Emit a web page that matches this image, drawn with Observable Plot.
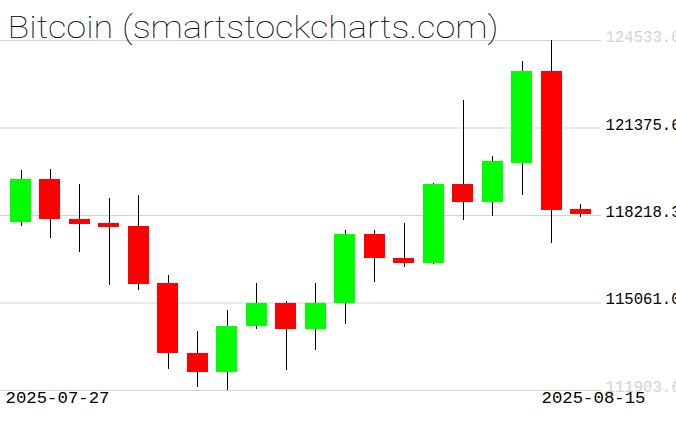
<!DOCTYPE html>
<html>
<head>
<meta charset="utf-8">
<script src="https://cdn.jsdelivr.net/npm/d3@7"></script>
<script src="https://cdn.jsdelivr.net/npm/@observablehq/plot@0.6"></script>
<style>
  body { margin: 0; background: #fff; }
  #chart { width: 676px; height: 431px; overflow: hidden; }
</style>
</head>
<body>
<div id="chart"></div>
<script>
const title = "Bitcoin (smartstockcharts.com)";
const dates = ["2025-07-27","2025-07-28","2025-07-29","2025-07-30","2025-07-31","2025-08-01","2025-08-02","2025-08-03","2025-08-04","2025-08-05","2025-08-06","2025-08-07","2025-08-08","2025-08-09","2025-08-10","2025-08-11","2025-08-12","2025-08-13","2025-08-14","2025-08-15"];
const open  = [117958,119501,118092,117947,117839,115780,113251,112540,114201,115057,114093,115032,117550,116683,116477,119320,118681,120090,123402,118417];
const high  = [119826,119862,119320,118814,118923,116069,114046,114805,115780,115130,115780,117695,117695,117947,119356,122355,120332,123763,124533.0,118616];
const low   = [117839,117380,116875,115708,115502,112648,111998,111903.6,114093,112612,113334,114273,115791,116333,116448,118030,118175,118934,117214,118139];
const close = [119501,118056,117911,117803,115744,113226,112540,114227,115057,114093,115057,117550,116658,116477,119320,118681,120151,123402,118392,118247];
const yTicks = [111903.6, 115061.0, 118218.3, 121375.6, 124533.0];
const xTicks = ["2025-07-27", "2025-08-15"];

const candles = dates.map((d, i) => ({date: d, open: open[i], high: high[i], low: low[i], close: close[i]}));
const mono = '"Liberation Mono", "DejaVu Sans Mono", monospace';

const chart = Plot.plot({
  width: 676,
  height: 431,
  marginTop: 40,
  marginBottom: 41,
  marginLeft: 0,
  marginRight: 75,
  x: {type: "band", domain: dates, paddingInner: 0.2875, paddingOuter: 0.34, round: false, axis: null},
  y: {domain: [yTicks[0], yTicks[yTicks.length - 1]], axis: null},
  style: {background: "#fff", overflow: "visible"},
  marks: [
    Plot.gridY(yTicks, {stroke: "#d3d3d3", strokeOpacity: 1}),
    Plot.ruleX(candles, {x: "date", y1: "low", y2: "high", stroke: "#000", strokeWidth: 1, shapeRendering: "crispEdges"}),
    Plot.barY(candles, {x: "date", y1: "open", y2: "close", fill: d => d.close >= d.open ? "#00ff00" : "#ff0000", shapeRendering: "crispEdges"}),
    Plot.text(yTicks, {
      y: d => d, frameAnchor: "right", dx: 4, dy: 1.5, textAnchor: "start", lineAnchor: "bottom",
      text: d => d.toFixed(1),
      fill: (d, i) => (i === 0 || i === yTicks.length - 1) ? "#d3d3d3" : "#000",
      fontFamily: mono, fontSize: 16
    }),
    Plot.text([xTicks[0]], {x: d => d, frameAnchor: "bottom", dx: -15.5, dy: 12, textAnchor: "start", lineAnchor: "bottom", fill: "#000", fontFamily: mono, fontSize: 16}),
    Plot.text([xTicks[1]], {x: d => d, frameAnchor: "bottom", dx: -39.5, dy: 12, textAnchor: "start", lineAnchor: "bottom", fill: "#000", fontFamily: mono, fontSize: 16}),
    Plot.text([title], {frameAnchor: "top-left", dx: 7, dy: -3, textAnchor: "start", lineAnchor: "bottom", fill: "#000", fontFamily: 'Roboto, "Liberation Sans"', fontSize: 31, fontWeight: 100})
  ]
});

document.getElementById("chart").appendChild(chart);

d3.select(chart).selectAll("text").each(function() {
  const t = this.textContent;
  if (t === title) {
    this.setAttribute("textLength", 491);
    this.setAttribute("lengthAdjust", "spacingAndGlyphs");
  } else if (xTicks.includes(t)) {
    this.setAttribute("textLength", 104);
    this.setAttribute("lengthAdjust", "spacingAndGlyphs");
  } else {
    this.setAttribute("textLength", 75);
    this.setAttribute("lengthAdjust", "spacingAndGlyphs");
  }
});
</script>
</body>
</html>
